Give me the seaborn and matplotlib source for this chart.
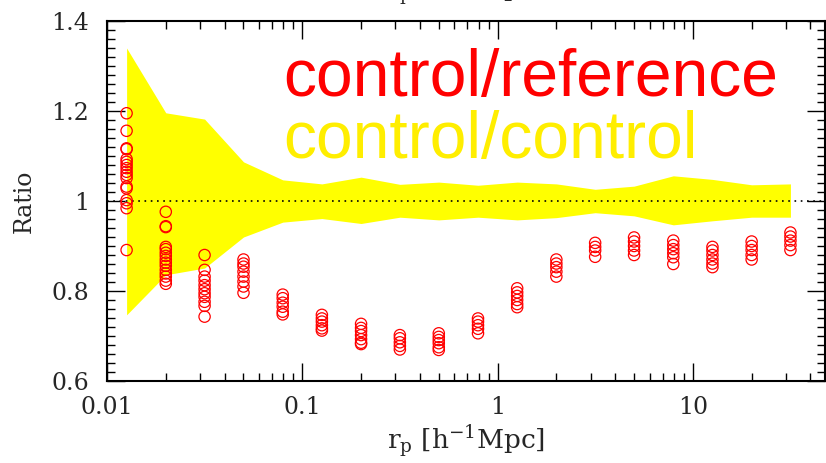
import matplotlib
matplotlib.use("Agg")
import matplotlib.pyplot as plt
import matplotlib.ticker as mticker
import numpy as np
import pandas as pd
import seaborn as sns

# bin centres in r_p [h^-1 Mpc]
rp_bins = [0.0126, 0.02, 0.0316, 0.05, 0.0794, 0.126, 0.2, 0.316, 0.5,
           0.794, 1.26, 2.0, 3.16, 5.0, 7.94, 12.6, 20.0, 31.6]

# control/control scatter (yellow band)
band_upper = [1.340, 1.196, 1.182, 1.087, 1.047, 1.038, 1.053, 1.037, 1.042,
              1.035, 1.042, 1.038, 1.026, 1.033, 1.056, 1.048, 1.036, 1.038]
band_lower = [0.747, 0.836, 0.851, 0.920, 0.953, 0.961, 0.950, 0.964, 0.958,
              0.964, 0.958, 0.963, 0.974, 0.967, 0.947, 0.956, 0.964, 0.964]

# control/reference ratios, one list per r_p bin
ratios = [
    [1.195, 1.156, 1.117, 1.115, 1.093, 1.087, 1.080, 1.073, 1.065, 1.058,
     1.051, 1.032, 1.028, 1.002, 0.995, 0.984, 0.891],
    [0.976, 0.944, 0.942, 0.898, 0.893, 0.885, 0.878, 0.870, 0.863, 0.856,
     0.847, 0.839, 0.832, 0.823, 0.816],
    [0.880, 0.847, 0.832, 0.823, 0.813, 0.804, 0.795, 0.787, 0.776, 0.767, 0.743],
    [0.870, 0.861, 0.854, 0.843, 0.832, 0.821, 0.810, 0.796],
    [0.792, 0.784, 0.774, 0.765, 0.754, 0.748],
    [0.747, 0.739, 0.732, 0.724, 0.717, 0.712],
    [0.727, 0.718, 0.711, 0.702, 0.693, 0.685, 0.682],
    [0.702, 0.695, 0.686, 0.678, 0.670],
    [0.706, 0.698, 0.691, 0.684, 0.675, 0.669],
    [0.739, 0.732, 0.724, 0.716, 0.706],
    [0.806, 0.797, 0.789, 0.780, 0.771, 0.764],
    [0.870, 0.861, 0.853, 0.843, 0.832],
    [0.907, 0.898, 0.890, 0.876],
    [0.919, 0.910, 0.900, 0.890, 0.880],
    [0.912, 0.902, 0.893, 0.884, 0.875, 0.860],
    [0.898, 0.890, 0.880, 0.870, 0.861, 0.853],
    [0.910, 0.900, 0.891, 0.880, 0.870],
    [0.930, 0.921, 0.912, 0.902, 0.891],
]

xticks = [0.01, 0.1, 1, 10]
xticklabels = ["0.01", "0.1", "1", "10"]
yticks = [0.6, 0.8, 1.0, 1.2, 1.4]
yticklabels = ["0.6", "0.8", "1", "1.2", "1.4"]

pts = pd.DataFrame({
    "rp": [rp_bins[i] for i, col in enumerate(ratios) for _ in col],
    "ratio": [v for col in ratios for v in col],
})

sns.set_style("ticks")
plt.rcParams["font.family"] = ["DejaVu Serif"]
plt.rcParams["mathtext.fontset"] = "dejavuserif"

fig = plt.figure(figsize=(8.26, 4.63), dpi=100)
ax = fig.add_axes([107 / 826, 1 - 381 / 463, 718 / 826, 360 / 463])

ax.fill_between(rp_bins, band_lower, band_upper, color="#ffff00", lw=0, zorder=1)
ax.axhline(1.0, color="black", lw=1.2, ls=(0, (1, 2.75)), zorder=2)

sns.scatterplot(data=pts, x="rp", y="ratio", ax=ax, marker="o", s=66,
                facecolor="none", edgecolor="red", linewidth=0.9, zorder=3)

ax.set_xscale("log")
ax.set_xlim(0.01, 47.5)
ax.set_ylim(0.6, 1.4)
ax.set_xticks(xticks)
ax.set_xticklabels(xticklabels)
ax.xaxis.set_minor_locator(mticker.LogLocator(base=10, subs=np.arange(2, 10)))
ax.xaxis.set_minor_formatter(mticker.NullFormatter())
ax.set_yticks(yticks)
ax.set_yticklabels(yticklabels)
ax.yaxis.set_minor_locator(mticker.MultipleLocator(0.02))

ax.tick_params(which="both", direction="in", top=True, right=True, width=1.0, color="black")
ax.tick_params(which="major", length=13, labelsize=17)
ax.tick_params(which="minor", length=6)
ax.tick_params(axis="x", pad=11)
ax.tick_params(axis="y", pad=13)
for sp in ax.spines.values():
    sp.set_linewidth(1.5)
    sp.set_color("black")

ax.set_xlabel(r"r$_\mathrm{p}$ [h$^{-1}$Mpc]", fontsize=19, labelpad=3)
ax.set_ylabel("Ratio", fontsize=17, labelpad=11)

ax.text(0.245, 0.7925, "control/reference", transform=ax.transAxes, color="red",
        fontsize=47.5, family="Liberation Sans", va="baseline", ha="left")
ax.text(0.245, 0.6186, "control/control", transform=ax.transAxes, color="#ffee00",
        fontsize=47.5, family="Liberation Sans", va="baseline", ha="left")

# bottom of the x label of the panel above, cut by the figure edge
fig.text(0.564, 1.022, r"r$_\mathrm{p}$ [h$^{-1}$Mpc]", fontsize=19,
         ha="center", va="center")

fig.savefig("out.png", dpi=100)
